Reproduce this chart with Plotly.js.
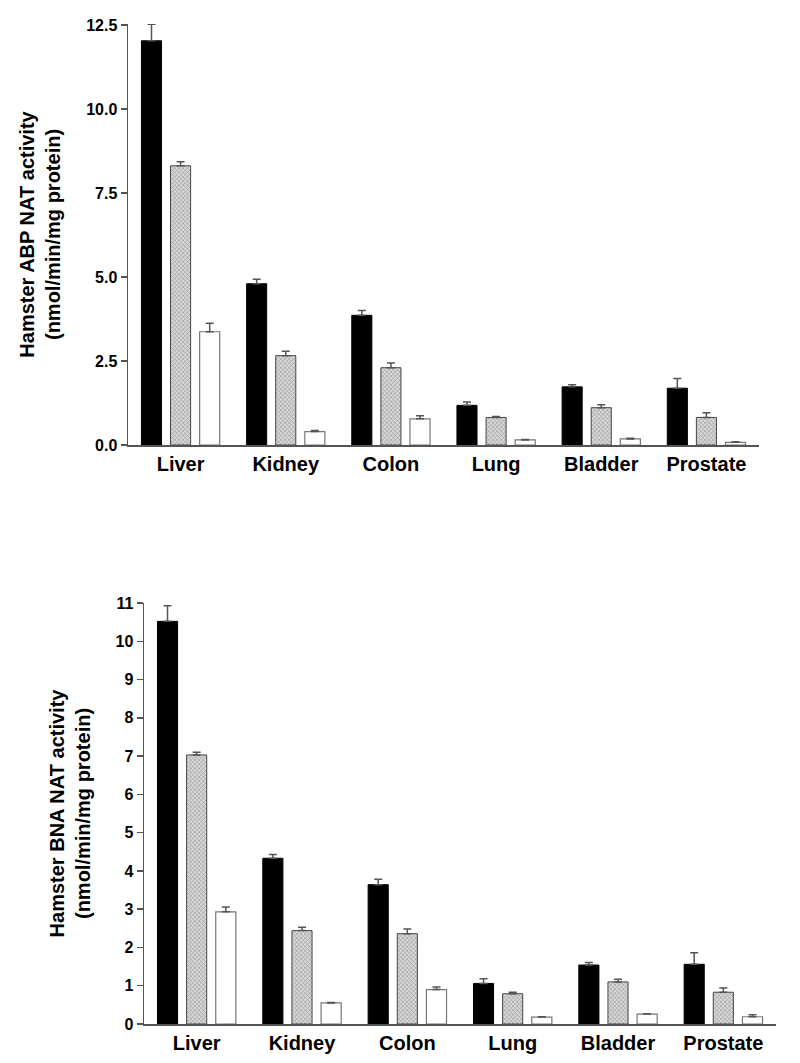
<!DOCTYPE html>
<html>
<head>
<meta charset="utf-8">
<script src="https://cdn.plot.ly/plotly-3.0.1.min.js"></script>
<style>html,body{margin:0;padding:0;background:#fff;}#chart{width:800px;height:1063px;}</style>
</head>
<body>
<div id="chart"></div>
<script>
// Categories (tissues)
const tissues = ["Liver", "Kidney", "Colon", "Lung", "Bladder", "Prostate"];

// Top panel: Hamster ABP NAT activity (nmol/min/mg protein)
const abpBlack = [12.03, 4.80, 3.86, 1.18, 1.73, 1.69];
const abpBlackErr = [0.49, 0.13, 0.14, 0.10, 0.06, 0.29];
const abpGrey = [8.31, 2.66, 2.30, 0.82, 1.11, 0.82];
const abpGreyErr = [0.12, 0.13, 0.14, 0.03, 0.09, 0.14];
const abpWhite = [3.37, 0.40, 0.78, 0.15, 0.18, 0.08];
const abpWhiteErr = [0.25, 0.03, 0.09, 0.01, 0.02, 0.02];

// Bottom panel: Hamster BNA NAT activity (nmol/min/mg protein)
const bnaBlack = [10.52, 4.33, 3.64, 1.06, 1.54, 1.56];
const bnaBlackErr = [0.41, 0.10, 0.14, 0.12, 0.07, 0.30];
const bnaGrey = [7.03, 2.44, 2.36, 0.79, 1.10, 0.83];
const bnaGreyErr = [0.07, 0.09, 0.12, 0.04, 0.07, 0.11];
const bnaWhite = [2.93, 0.55, 0.90, 0.18, 0.26, 0.19];
const bnaWhiteErr = [0.13, 0.01, 0.07, 0.01, 0.01, 0.05];

const zeros = tissues.map(() => 0);

function errBar(arr) {
  return {type: 'data', symmetric: false, array: arr, arrayminus: zeros,
          color: '#555', thickness: 1.5, width: 4, visible: true};
}
const blackMarker = {color: '#000', line: {color: '#000', width: 1}};
const greyMarker = {color: '#c8c8c8', line: {color: '#444', width: 1},
  pattern: {shape: 'x', size: 3, solidity: 0.3, fgcolor: '#888', bgcolor: '#d8d8d8', fillmode: 'replace'}};
const whiteMarker = {color: '#fff', line: {color: '#777', width: 1.2}};

function traces(b, be, g, ge, w, we, xa, ya) {
  return [
    {type: 'bar', x: tissues, y: b, error_y: errBar(be), marker: blackMarker, xaxis: xa, yaxis: ya, showlegend: false, cliponaxis: false},
    {type: 'bar', x: tissues, y: g, error_y: errBar(ge), marker: greyMarker, xaxis: xa, yaxis: ya, showlegend: false, cliponaxis: false},
    {type: 'bar', x: tissues, y: w, error_y: errBar(we), marker: whiteMarker, xaxis: xa, yaxis: ya, showlegend: false, cliponaxis: false}
  ];
}

const data = [
  ...traces(abpBlack, abpBlackErr, abpGrey, abpGreyErr, abpWhite, abpWhiteErr, 'x', 'y'),
  ...traces(bnaBlack, bnaBlackErr, bnaGrey, bnaGreyErr, bnaWhite, bnaWhiteErr, 'x2', 'y2')
];

const fontFam = 'Liberation Sans, Arial, sans-serif';
const tickFont = {family: fontFam, size: 16, color: '#000', weight: 'bold'};
const catFont = {family: fontFam, size: 20, color: '#000', weight: 'bold'};
const titleFont = {family: fontFam, size: 20, color: '#000', weight: 'bold'};

function xAxis(domain, anchor) {
  return {domain: domain, anchor: anchor, showline: true, linecolor: '#555', linewidth: 1.5,
    ticks: '', tickfont: catFont, showgrid: false, zeroline: false, fixedrange: true};
}
function yAxis(domain, anchor, range, dtick, fmt, title, standoff) {
  return {domain: domain, anchor: anchor, range: range, dtick: dtick, tick0: 0, tickformat: fmt,
    showline: true, linecolor: '#555', linewidth: 1.5, ticks: 'outside', ticklen: 6, tickwidth: 1.5,
    tickcolor: '#555', tickfont: tickFont, showgrid: false, zeroline: false,
    title: {text: title, font: titleFont, standoff: standoff}, automargin: false};
}

const H = 1063, W = 800;
const layout = {
  width: W, height: H,
  margin: {l: 0, r: 0, t: 0, b: 0},
  paper_bgcolor: '#fff', plot_bgcolor: '#fff',
  barmode: 'group', bargap: 0.17, bargroupgap: 0.31,
  xaxis: xAxis([128 / W, 759 / W], 'y'),
  yaxis: yAxis([1 - 445 / H, 1 - 24 / H], 'x', [0, 12.53], 2.5, '.1f',
    'Hamster ABP NAT activity<br>(nmol/min/mg protein)', 20),
  xaxis2: xAxis([144 / W, 776 / W], 'y2'),
  yaxis2: yAxis([1 - 1024 / H, 1 - 603 / H], 'x2', [0, 11], 1, 'd',
    'Hamster BNA NAT activity<br>(nmol/min/mg protein)', 19)
};

Plotly.newPlot('chart', data, layout, {displayModeBar: false, staticPlot: true});
</script>
</body>
</html>
